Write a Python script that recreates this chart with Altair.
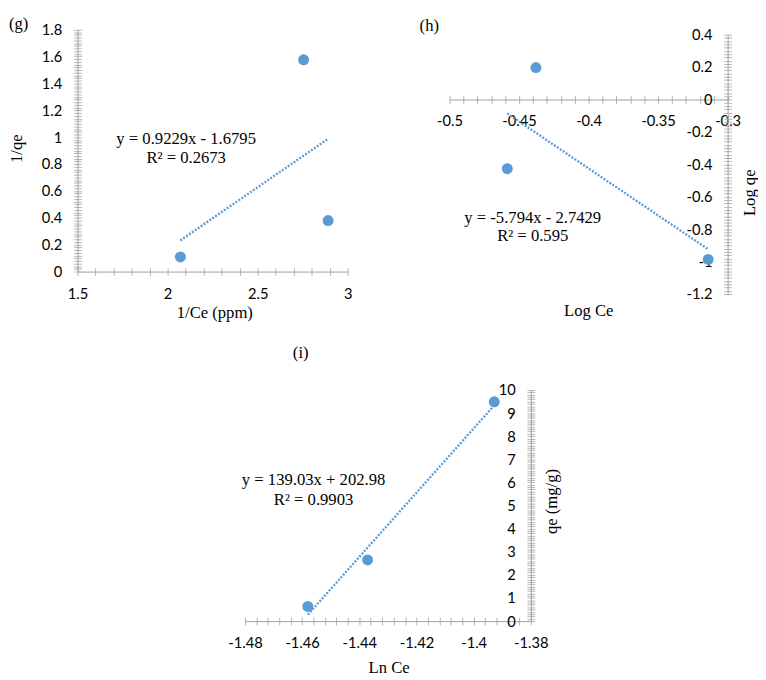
import altair as alt
import pandas as pd

# ---------------- data ----------------
# Panel (g): 1/qe vs 1/Ce
G_X = [2.071, 2.755, 2.891]
G_Y = [0.109, 1.576, 0.380]
G_FIT = [0.9229, -1.6795]          # slope, intercept
G_EQ = ["y = 0.9229x - 1.6795", "R² = 0.2673"]

# Panel (h): Log qe vs Log Ce
H_X = [-0.4379, -0.4585, -0.3140]
H_Y = [0.197, -0.427, -0.986]
H_FIT = [-5.794, -2.7429]
H_EQ = ["y = -5.794x - 2.7429", "R² = 0.595"]

# Panel (i): qe vs Ln Ce
I_X = [-1.4580, -1.4371, -1.3928]
I_Y = [0.636, 2.647, 9.49]
I_FIT = [139.03, 202.98]
I_EQ = ["y = 139.03x + 202.98", "R² = 0.9903"]

PANEL_LABELS = ["(g)", "(h)", "(i)"]
X_TITLES = ["1/Ce (ppm)", "Log Ce", "Ln Ce"]
Y_TITLES = ["1/qe", "Log qe", "qe (mg/g)"]

# ---------------- styles / layout ----------------
BLUE = "#5B9BD5"
SERIF = "Liberation Serif"
SANS = "Lato"
AX_GREY = "#a0a0a0"
TICK_GREY = "#b4b4b4"


def ticks(lo, hi, step):
    n = int(round((hi - lo) / step))
    return [round(lo + k * step, 6) for k in range(n + 1)]


def label_expr(step):
    return (f"abs(datum.value/{step} - round(datum.value/{step})) < 1e-6 "
            f"? '' + datum.value : ''")


def axis_main(orient, values, step, offset, title, tx, ty, angle, pad):
    return alt.Axis(
        orient=orient, values=values, labelExpr=label_expr(step), offset=offset,
        title=title, titleX=tx, titleY=ty, titleAngle=angle,
        titleAlign="center", titleBaseline="middle",
        titleFont=SERIF, titleFontSize=17, titleFontWeight="normal", titleColor="black",
        labelFont=SANS, labelFontSize=15, labelColor="black", labelPadding=pad,
        labelFlush=False, labelOverlap=False, labelBound=False,
        tickSize=4, tickColor=TICK_GREY, tickWidth=1,
        domainColor=AX_GREY, domainWidth=1, grid=False)


def axis_cross(orient, values, offset):
    # second set of ticks pushed inwards so that the ticks cross the axis line
    return alt.Axis(orient=orient, values=values, offset=offset, labels=False,
                    domain=False, title=None, tickSize=4, tickColor=TICK_GREY,
                    tickWidth=1, grid=False)


def panel(xs, ys, fit, eq, label, xdom, ydom, xt, yt, xstep, ystep,
          W, H, xoff, yoff, xt_pos, yt_pos, eq_pos, lab_pos):
    df = pd.DataFrame({"x": xs, "y": ys})
    xsc = alt.Scale(domain=xdom, nice=False, zero=False)
    ysc = alt.Scale(domain=ydom, nice=False, zero=False)

    xa = axis_main("bottom", xt, xstep, xoff, X_TITLES[label], xt_pos[0], xt_pos[1], 0, 11)
    ya = axis_main("left", yt, ystep, yoff, Y_TITLES[label], yt_pos[0], yt_pos[1], 270, 12)
    xb = axis_cross("bottom", xt, xoff - 4)
    yb = axis_cross("left", yt, yoff - 4)

    ghost = alt.Chart(df).mark_circle(opacity=0).encode(
        x=alt.X("x:Q", scale=xsc, axis=xb), y=alt.Y("y:Q", scale=ysc, axis=yb))

    fx = [min(xs), max(xs)]
    fdf = pd.DataFrame({"x": fx, "y": [fit[0] * v + fit[1] for v in fx]})
    line = alt.Chart(fdf).mark_line(color=BLUE, strokeWidth=2.4, strokeDash=[2, 1.6]).encode(
        x=alt.X("x:Q", scale=xsc, axis=None), y=alt.Y("y:Q", scale=ysc, axis=None))

    pts = alt.Chart(df).mark_circle(size=125, color=BLUE, opacity=1).encode(
        x=alt.X("x:Q", scale=xsc, axis=xa), y=alt.Y("y:Q", scale=ysc, axis=ya))

    tdf = pd.DataFrame({
        "x": [eq_pos[0], eq_pos[0], lab_pos[0]],
        "y": [eq_pos[1], eq_pos[2], lab_pos[1]],
        "t": [eq[0], eq[1], PANEL_LABELS[label]],
    })
    txt = alt.Chart(tdf).mark_text(font=SERIF, fontSize=17, align="center",
                                   baseline="middle", color="black").encode(
        x=alt.X("x:Q", scale=xsc, axis=None), y=alt.Y("y:Q", scale=ysc, axis=None),
        text="t:N")

    return alt.layer(ghost, line, pts, txt).resolve_axis(
        x="independent", y="independent").properties(width=W, height=H)


# panel (g)
WG, HG = 276, 247
g = panel(G_X, G_Y, G_FIT, G_EQ, 0, [1.5, 3.0], [0, 1.8],
          ticks(1.5, 3.0, 0.1), ticks(0, 1.8, 0.02), 0.5, 0.2,
          WG, HG, 0, 0, (139.7, 41.7), (-62, 121),
          (2.103, 0.985, 0.846), (1.173, 1.8435))

# panel (h)
WH, HH = 284, 265
y0h = HH * 0.4 / 1.6
h = panel(H_X, H_Y, H_FIT, H_EQ, 1, [-0.5, -0.3], [-1.2, 0.4],
          ticks(-0.5, -0.3, 0.01), ticks(-1.2, 0.4, 0.02), 0.05, 0.2,
          WH, HH, -(HH - y0h), -WH, (141.6, 215.7), (22.3, 161),
          (-0.4402, -0.729, -0.844), (-0.5146, 0.45))

# panel (i)
WI, HI = 292, 236
i = panel(I_X, I_Y, I_FIT, I_EQ, 2, [-1.48, -1.38], [0, 10],
          ticks(-1.48, -1.38, 0.004), ticks(0, 10, 0.1), 0.02, 1,
          WI, HI, 0, -WI, (146.7, 47.3), (21.7, 113.3),
          (-1.456, 6.097, 5.25), (-1.4605, 11.61))

blank = pd.DataFrame({"v": [0]})
spacer_top = alt.Chart(blank).mark_point(opacity=0).properties(width=WH, height=5)
spacer_left = alt.Chart(blank).mark_point(opacity=0).properties(width=161, height=HI)

row1 = alt.hconcat(g, alt.vconcat(spacer_top, h, spacing=0, bounds="flush"),
                   spacing=104, bounds="flush")
row2 = alt.hconcat(spacer_left, i, spacing=10, bounds="flush")

chart = (alt.vconcat(row1, row2, spacing=24, bounds="full")
         .properties(padding=0, background="white")
         .configure_view(strokeWidth=0))

chart.save("out.html", embed_options={"renderer": "svg", "actions": False})
